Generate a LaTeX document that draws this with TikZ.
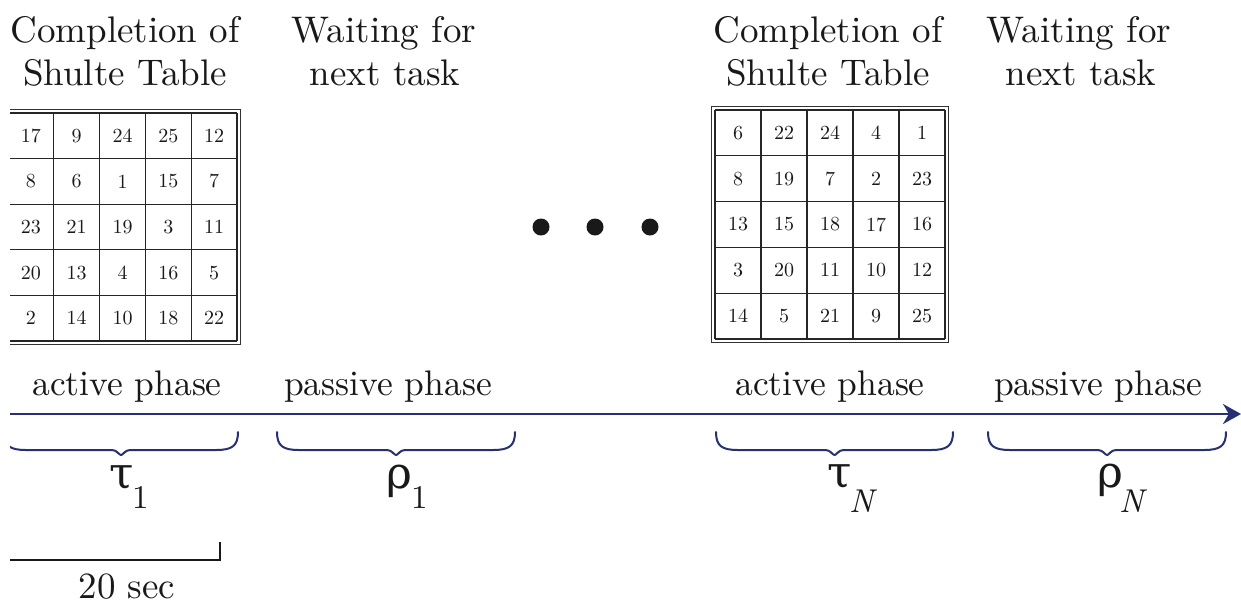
\documentclass[tikz,border=0pt]{standalone}
\usepackage{fontspec}
\setmainfont{lmroman10-regular.otf}[ItalicFont=lmroman10-italic.otf]
\newfontfamily\greekface{DejaVu Serif}
\usetikzlibrary{arrows.meta}
\definecolor{navy}{RGB}{38,48,115}
\definecolor{ink}{RGB}{25,25,25}
\tikzset{
  lbl/.style={font=\fontsize{37}{41}\selectfont, text=ink, inner sep=0pt, anchor=base},
  phase/.style={font=\fontsize{35.5}{40}\selectfont, text=ink, inner sep=0pt, anchor=base},
  num/.style={font=\fontsize{20}{22}\selectfont, text=ink, inner sep=0pt},
  grk/.style={font=\greekface\fontsize{44}{48}\selectfont, text=ink, inner sep=0pt, anchor=base},
  sub/.style={font=\fontsize{33}{36}\selectfont, text=ink, inner sep=0pt, anchor=base west},
  gridline/.style={draw=black!85, line width=1.3pt},
  frame/.style={draw=black!80, line width=1.4pt},
  timeaxis/.style={draw=navy, line width=2.4pt, -{Stealth[length=18pt,width=20pt]}},
  bracket/.style={draw=navy, line width=2pt, line cap=round, line join=round},
  dot/.style={circle, fill=ink, minimum size=17pt, inner sep=0pt},
  scalebar/.style={draw=ink, line width=2.4pt}
}
% one Schulte table: #1 left, #2 top, #3 cell width, #4 cell height, #5 rows, #6 name
\newcommand{\schultetable}[6]{%
  \foreach \k in {0,...,5} {
    \draw[gridline] ({#1+#3*\k},#2) -- ({#1+#3*\k},{#2+5*#4});
    \draw[gridline] (#1,{#2+#4*\k}) -- ({#1+5*#3},{#2+#4*\k});
  }
  \draw[frame] ({#1-3.5},{#2-3.5}) rectangle ({#1+5*#3+3.5},{#2+5*#4+3.5});
  \foreach \row [count=\r from 0] in {#5} {
    \foreach \v [count=\c from 0] in \row {
      \node[num] (#6-\r-\c) at ({#1+#3*(\c+0.5)},{#2+#4*(\r+0.5)}) {\v};
    }
  }
}
% curly bracket under the time axis: #1 left, #2 right
\newcommand{\phasebracket}[2]{%
  \draw[bracket] (#1,432) .. controls (#1,446) and ({#1+6},450) .. ({#1+22},450)
    -- ({(#1+#2)/2-9},450) .. controls ({(#1+#2)/2-4},450) and ({(#1+#2)/2-2},455) .. ({(#1+#2)/2},455)
    .. controls ({(#1+#2)/2+2},455) and ({(#1+#2)/2+4},450) .. ({(#1+#2)/2+9},450)
    -- ({#2-22},450) .. controls ({#2-6},450) and (#2,446) .. (#2,432);
}
\begin{document}
\begin{tikzpicture}[x=1pt,y=-1pt]
\useasboundingbox (0,0) rectangle (1241,606);
\fill[white] (0,0) rectangle (1241,606);
\clip (10,0) rectangle (1241,606);

% headings
\node[lbl] (h1a) at (125,42) {Completion of};
\node[lbl] (h1b) at (125,85) {Shulte Table};
\node[lbl] (h2a) at (384,42) {Waiting for};
\node[lbl] (h2b) at (385,85) {next task};
\node[lbl] (h3a) at (828,42) {Completion of};
\node[lbl] (h3b) at (828,85) {Shulte Table};
\node[lbl] (h4a) at (1079,42) {Waiting for};
\node[lbl] (h4b) at (1081,85) {next task};

% tables
\schultetable{8}{113}{45.8}{45.6}{{17,9,24,25,12},{8,6,1,15,7},{23,21,19,3,11},{20,13,4,16,5},{2,14,10,18,22}}{ta}
\schultetable{715}{110}{46}{45.8}{{6,22,24,4,1},{8,19,7,2,23},{13,15,18,17,16},{3,20,11,10,12},{14,5,21,9,25}}{tb}

% ellipsis
\node[dot] (d1) at (541,227) {};
\node[dot] (d2) at (595,227) {};
\node[dot] (d3) at (650,227) {};

% phase labels
\node[phase] (p1) at (127,395) {active phase};
\node[phase] (p2) at (388,395) {passive phase};
\node[phase] (p3) at (830,395) {active phase};
\node[phase] (p4) at (1098,395) {passive phase};

% time axis
\coordinate (axisstart) at (6,414);
\coordinate (axisend) at (1241,414);
\draw[timeaxis] (axisstart) -- (axisend);

% brackets
\phasebracket{4}{238}
\phasebracket{277}{515}
\phasebracket{716}{953}
\phasebracket{988}{1226}

% durations
\node[grk] (tau1) at (122,488) {τ};
\node[sub] (tau1s) at (132,508) {1};
\node[grk] (rho1) at (399,488) {ρ};
\node[sub] (rho1s) at (411,508) {1};
\node[grk] (tauN) at (840,487) {τ};
\node[sub] (tauNs) at (849,512) {\itshape N};
\node[grk] (rhoN) at (1110,487) {ρ};
\node[sub] (rhoNs) at (1119,512) {\itshape N};

% scale bar
\coordinate (sb0) at (6,560);
\coordinate (sb1) at (220,560);
\coordinate (sb2) at (220,542);
\draw[scalebar] (sb0) -- (sb1) -- (sb2);
\node[lbl] (sbl) at (127,598) {20 sec};
\end{tikzpicture}
\end{document}
